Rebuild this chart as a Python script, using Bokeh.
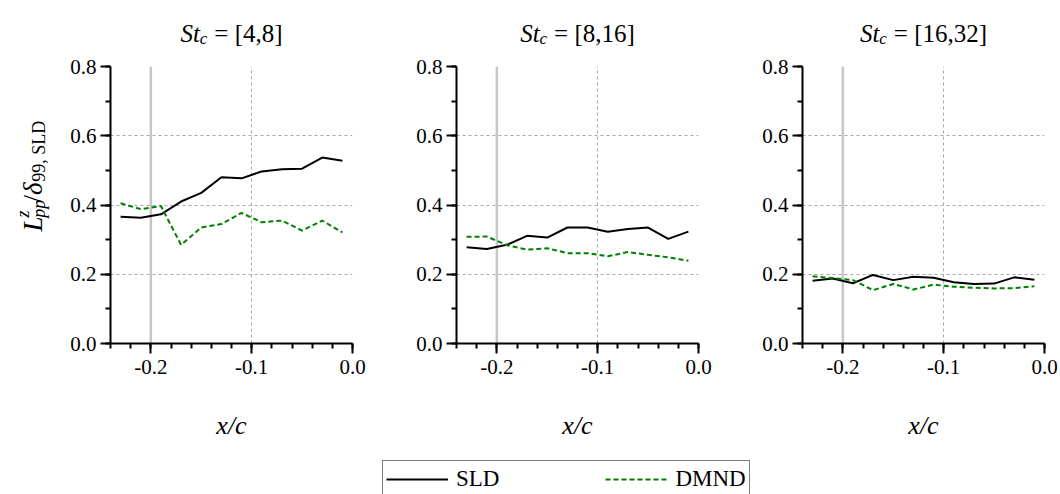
import math
import numpy as np
from bokeh.plotting import figure
from bokeh.models import (Range1d, FixedTicker, Span, Legend, LegendItem,
                          PrintfTickFormatter)
from bokeh.core.properties import value
from bokeh.layouts import row, column
from bokeh.embed import file_html
from bokeh.resources import INLINE

# ---------------- data ----------------
x_c = [-0.23, -0.21, -0.19, -0.17, -0.15, -0.13, -0.11, -0.09, -0.07, -0.05, -0.03, -0.01]

sld_4_8 = [0.366, 0.363, 0.373, 0.410, 0.435, 0.480, 0.477, 0.497, 0.503, 0.505, 0.537, 0.528]
dmnd_4_8 = [0.405, 0.388, 0.397, 0.285, 0.335, 0.345, 0.377, 0.350, 0.355, 0.326, 0.355, 0.321]

sld_8_16 = [0.278, 0.273, 0.285, 0.311, 0.306, 0.335, 0.335, 0.323, 0.331, 0.335, 0.302, 0.323]
dmnd_8_16 = [0.308, 0.309, 0.284, 0.271, 0.275, 0.261, 0.261, 0.252, 0.264, 0.256, 0.249, 0.239]

sld_16_32 = [0.181, 0.188, 0.174, 0.198, 0.183, 0.193, 0.190, 0.177, 0.172, 0.173, 0.191, 0.184]
dmnd_16_32 = [0.194, 0.189, 0.183, 0.154, 0.172, 0.156, 0.170, 0.164, 0.161, 0.159, 0.160, 0.165]

band_labels = ["[4,8]", "[8,16]", "[16,32]"]
series_names = ["SLD", "DMND"]
x_ticks = [-0.2, -0.1, 0.0]
y_ticks = [0.0, 0.2, 0.4, 0.6, 0.8]
x_grid = [-0.1]
y_grid = [0.2, 0.4, 0.6]
ref_line_x = -0.2

# ---------------- style / geometry ----------------
FONT = "Liberation Serif"
GREEN = "#008000"
FW, FH = 242, 277
PTOP, PBOT = 12, 45
XR = (-0.24, 0.0)
YR = (0.0, 0.8)
TOTAL_W = 1060
YLAB_W = 50
PANEL_BORDERS = [(60, 20), (84, 20), (84, 16)]
TITLE_H, XLAB_H, LEG_H = 54, 52, 54
PANEL_H = PTOP + FH + PBOT

REG = {' ': .25, '=': .564, '[': .333, ']': .333, ',': .25, '.': .25, 'S': .556, 'L': .611,
       'D': .722, 'M': .889, 'N': .722, '/': .278}
for d in "0123456789":
    REG[d] = .5
ITA = {'S': .5, 't': .278, 'c': .444, 'x': .444, 'L': .556, 'z': .389, 'p': .5,
       'δ': .5, '/': .278}


def twidth(text, size, style):
    tab = ITA if style == "italic" else REG
    return sum(tab.get(ch, .5) for ch in text) * size


def text_fig(w, h):
    f = figure(width=w, height=h, x_range=Range1d(0, w), y_range=Range1d(0, h),
               min_border=0, x_axis_location=None, y_axis_location=None, title=None,
               output_backend="svg", toolbar_location=None)
    f.grid.visible = False
    f.outline_line_color = None
    f.background_fill_color = "white"
    f.border_fill_color = "white"
    return f


def put_pieces(f, pieces, x0, y0, angle=0.0, center=False):
    """pieces: (text, size, style, down_shift, kern_before, advances)"""
    ca, sa = math.cos(angle), math.sin(angle)
    total = 0.0
    for t, s, st, sh, k, adv in pieces:
        total += k + (twidth(t, s, st) if adv else 0)
    pos = -total / 2 if center else 0.0
    for t, s, st, sh, k, adv in pieces:
        pos += k
        px = x0 + pos * ca + sh * sa
        py = y0 + pos * sa - sh * ca
        f.text(x=[px], y=[py], text=[t], angle=angle, text_font=value(FONT),
               text_font_size=f"{s}px", text_font_style=st, text_color="black",
               text_align="left", text_baseline="alphabetic")
        if adv:
            pos += twidth(t, s, st)


def make_panel(sld, dmnd, bl, br):
    p = figure(width=bl + FW + br, height=PANEL_H, title=None,
               x_range=Range1d(*XR), y_range=Range1d(*YR),
               output_backend="svg", toolbar_location=None,
               min_border_left=bl, min_border_right=br,
               min_border_top=PTOP, min_border_bottom=PBOT)
    p.outline_line_color = None
    p.background_fill_color = "white"
    p.border_fill_color = "white"

    p.xaxis.ticker = FixedTicker(ticks=x_ticks,
                                 minor_ticks=list(np.round(np.arange(-0.24, 0.001, 0.02), 2)))
    p.yaxis.ticker = FixedTicker(ticks=y_ticks,
                                 minor_ticks=list(np.round(np.arange(0.0, 0.801, 0.1), 1)))
    for ax in (p.xaxis[0], p.yaxis[0]):
        ax.formatter = PrintfTickFormatter(format="%.1f")
        ax.axis_line_width = 2
        ax.axis_line_color = "black"
        ax.major_tick_line_width = 2
        ax.minor_tick_line_width = 2
        ax.major_tick_line_color = "black"
        ax.minor_tick_line_color = "black"
        ax.major_tick_in = 0
        ax.major_tick_out = 10
        ax.minor_tick_in = 0
        ax.minor_tick_out = 5
        ax.major_label_text_font = FONT
        ax.major_label_text_font_size = "21px"
        ax.major_label_text_color = "black"
    p.xaxis.major_label_standoff = 6
    p.yaxis.major_label_standoff = 4

    p.xgrid.ticker = FixedTicker(ticks=x_grid)
    p.ygrid.ticker = FixedTicker(ticks=y_grid)
    for g in (p.xgrid[0], p.ygrid[0]):
        g.grid_line_color = "#a6a6a6"
        g.grid_line_dash = "3 3"
        g.grid_line_width = 1

    p.add_layout(Span(location=ref_line_x, dimension="height", line_color="#c6c6c6",
                      line_width=2.5, level="underlay"))

    p.line(x_c, sld, line_color="black", line_width=2)
    p.line(x_c, dmnd, line_color=GREEN, line_width=2, line_dash="5 3")
    return p


series = [(sld_4_8, dmnd_4_8), (sld_8_16, dmnd_8_16), (sld_16_32, dmnd_16_32)]
panels = [make_panel(s, d, bl, br) for (s, d), (bl, br) in zip(series, PANEL_BORDERS)]

# frame centres (page px) for titles and x labels
centres = []
x_left = YLAB_W
for (bl, br) in PANEL_BORDERS:
    centres.append(x_left + bl + FW / 2)
    x_left += bl + FW + br

# titles
titles = text_fig(TOTAL_W, TITLE_H)
for cx, band in zip(centres, band_labels):
    put_pieces(titles, [("St", 25, "italic", 0, 0, True),
                        ("c", 17, "italic", 5, 0, True),
                        ("= " + band, 25, "normal", 0, 7, True)],
               cx, TITLE_H - 33, center=True)

# y label
ylab = text_fig(YLAB_W, PANEL_H)
put_pieces(ylab, [("L", 27, "italic", 0, 0, True),
                  ("z", 18, "italic", -10, 2, False),
                  ("pp", 18, "italic", 6, -0.5, True),
                  ("/", 27, "normal", 0, 0.5, True),
                  ("δ", 27, "italic", 0, 1.5, True),
                  ("99, SLD", 18, "normal", 6, 2.5, True)],
           32, PANEL_H - (253 - TITLE_H), angle=math.pi / 2)

# x labels
xlab = text_fig(TOTAL_W, XLAB_H)
for cx in centres:
    put_pieces(xlab, [("x/c", 26, "italic", 0, 0, True)], cx, 15, center=True)

# legend
leg = text_fig(TOTAL_W, LEG_H)
r1 = leg.line(x=[-10, -9], y=[-10, -9], line_color="black", line_width=2)
r2 = leg.line(x=[-10, -9], y=[-10, -9], line_color=GREEN, line_width=2, line_dash="5 3")
legend = Legend(items=[LegendItem(label=series_names[0], renderers=[r1]),
                       LegendItem(label=series_names[1], renderers=[r2])],
                orientation="horizontal", location=(382, -4), margin=0, padding=3,
                spacing=106, glyph_width=62, glyph_height=30, label_height=30,
                label_standoff=8, label_text_font=FONT, label_text_font_size="23px",
                label_text_color="black", border_line_color="black", border_line_width=1,
                background_fill_alpha=1.0)
leg.add_layout(legend)

layout = column(titles, row(ylab, *panels), xlab, leg)
open("out.html", "w").write(file_html(layout, INLINE))
